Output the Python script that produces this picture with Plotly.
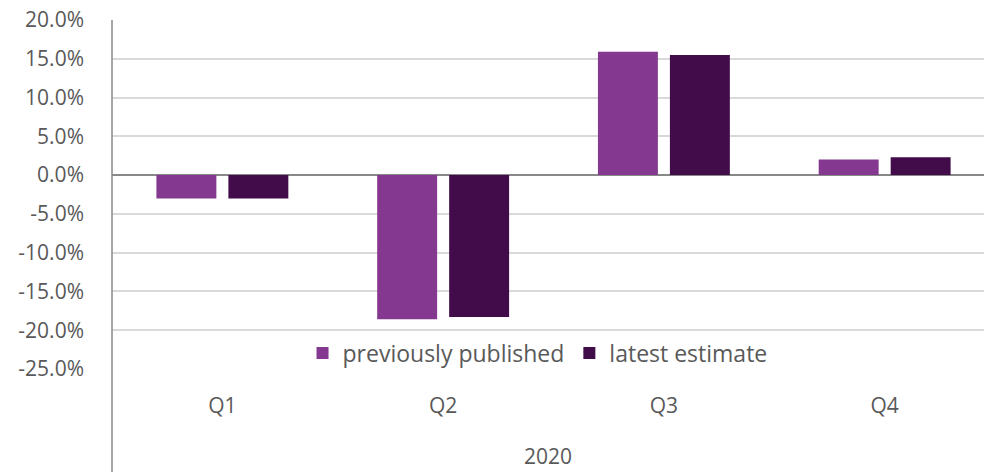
import plotly.graph_objects as go

categories = ["Q1", "Q2", "Q3", "Q4"]
previously_published = [-3.0, -18.6, 15.9, 2.0]
latest_estimate = [-3.0, -18.3, 15.5, 2.3]
year_label = "2020"
y_ticks = [20, 15, 10, 5, 0, -5, -10, -15, -20, -25]
y_tick_labels = [f"{v:.1f}%" for v in y_ticks]

font_family = "'Open Sans', Lato, sans-serif"
text_color = "#595959"
fs = 21

fig = go.Figure()
fig.add_trace(go.Bar(x=categories, y=previously_published, name="previously published",
                     marker=dict(color="#84388F", line=dict(width=0))))
fig.add_trace(go.Bar(x=categories, y=latest_estimate, name="latest estimate",
                     marker=dict(color="#420C4B", line=dict(width=0))))

fig.update_layout(
    width=984, height=472,
    margin=dict(l=112, r=0, t=20, b=103),
    plot_bgcolor="white", paper_bgcolor="white",
    barmode="group", bargap=0.348, bargroupgap=0.167,
    font=dict(family=font_family, size=fs, color=text_color),
    legend=dict(orientation="h", x=0.488, xanchor="center", y=0.046, yanchor="middle",
                bgcolor="rgba(0,0,0,0)", font=dict(size=23, color=text_color),
                itemwidth=30, traceorder="normal"),
    showlegend=True,
)
fig.update_xaxes(range=[-0.5, 3.45], showgrid=False, zeroline=False, showline=False,
                 ticks="", ticklabelstandoff=22, tickfont=dict(size=fs, color=text_color))
fig.update_yaxes(range=[-25, 20], tickvals=y_ticks, ticktext=y_tick_labels,
                 showgrid=True, gridcolor="#D9D9D9", gridwidth=1.5,
                 zeroline=True, zerolinecolor="#888888", zerolinewidth=1.5,
                 showline=False, ticks="", ticklabelstandoff=27,
                 tickfont=dict(size=fs, color=text_color))

# vertical axis line extending below plot area (category axis divider)
fig.add_shape(type="line", xref="paper", yref="paper", x0=0, x1=0, y0=1, y1=-0.31,
              line=dict(color="#888888", width=1.5), layer="above")
fig.add_annotation(text=year_label, xref="paper", yref="paper", x=0.5, y=-0.25,
                   xanchor="center", yanchor="middle", showarrow=False,
                   font=dict(size=fs, color=text_color))

fig.write_html("out.html")
